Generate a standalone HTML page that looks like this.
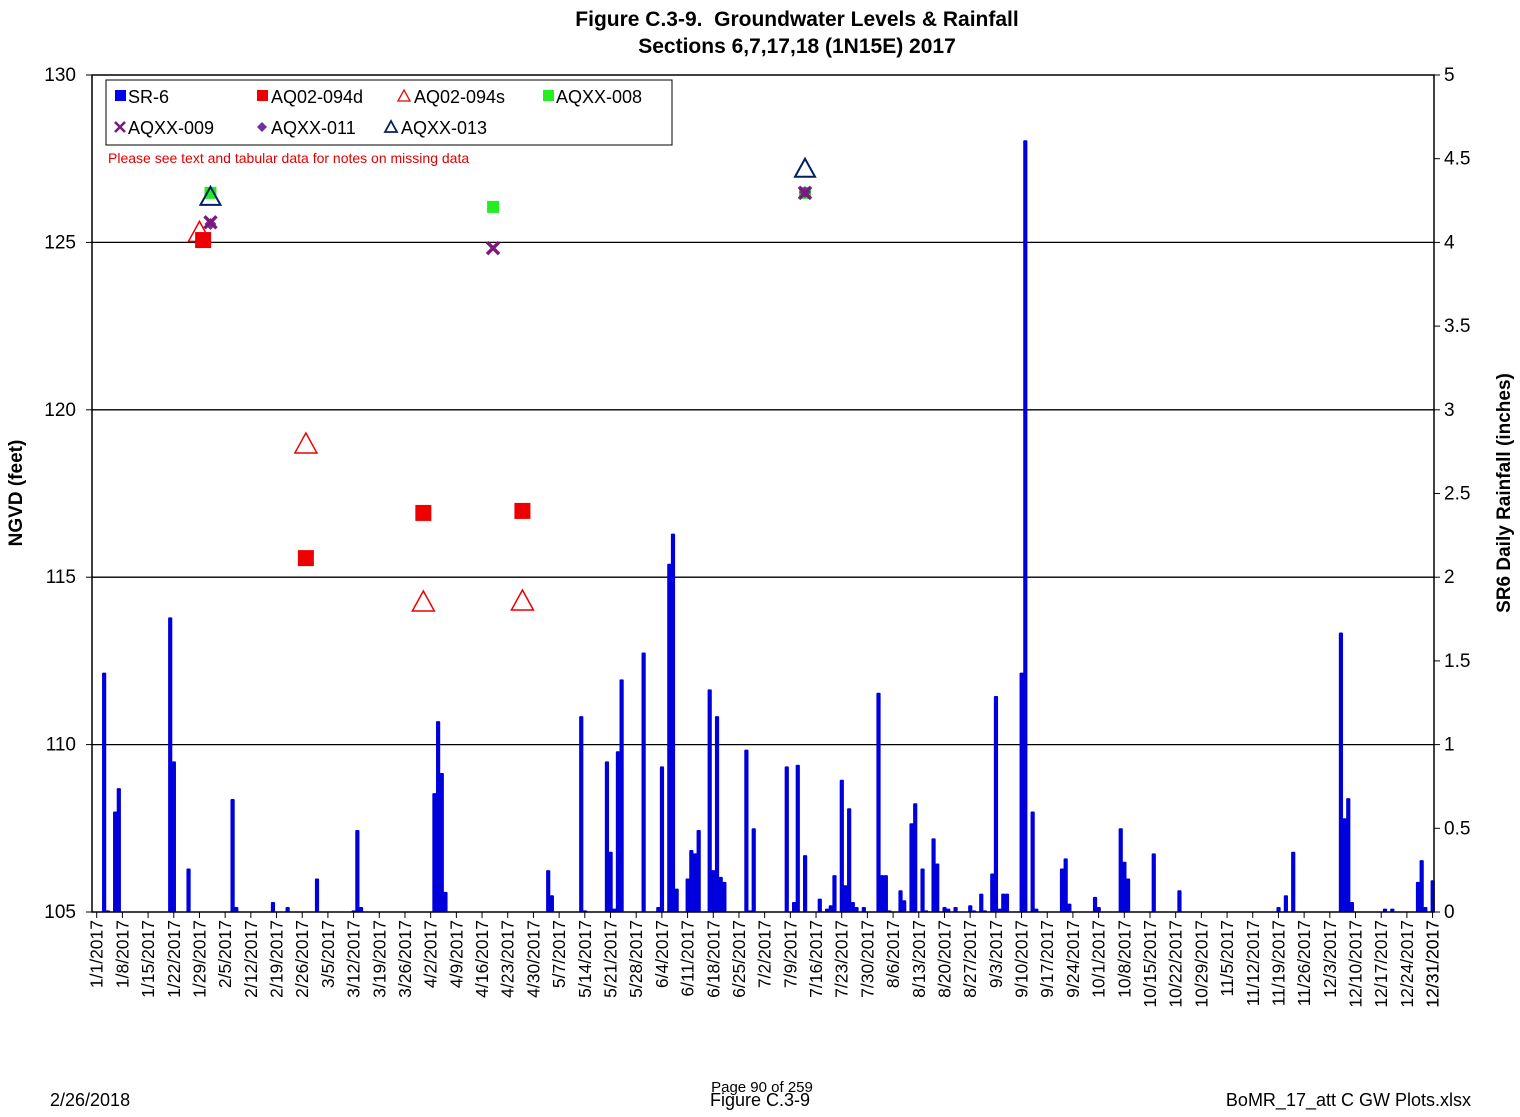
<!DOCTYPE html>
<html><head><meta charset="utf-8"><style>
body{margin:0;background:#fff;font-family:"Liberation Sans",sans-serif}
svg text{font-family:"Liberation Sans",sans-serif}
</style></head><body>
<svg id="c" width="1520" height="1112" viewBox="0 0 1520 1112">
<text x="797" y="26" text-anchor="middle" font-size="21" font-weight="bold" style="white-space:pre">Figure C.3-9.  Groundwater Levels &amp; Rainfall</text>
<text x="797" y="53" text-anchor="middle" font-size="21" font-weight="bold">Sections 6,7,17,18 (1N15E) 2017</text>
<g id="grid"></g><g id="bars"></g><g id="pts"></g><g id="axes"></g>
<g>
<rect x="106" y="80" width="566" height="65" fill="#fff" stroke="#000" stroke-width="1"/>
<g><rect x="115" y="90" width="11" height="11" fill="#0000ee"/><text x="128" y="103" font-size="18">SR-6</text></g>
<g><rect x="257" y="90" width="11" height="11" fill="#ee0000"/><text x="271" y="103" font-size="18">AQ02-094d</text></g>
<g><polygon points="404,90 398,101 410,101" fill="none" stroke="#e00" stroke-width="1.3"/><text x="414" y="103" font-size="18">AQ02-094s</text></g>
<g><rect x="543" y="90" width="11" height="11" fill="#22ee22"/><text x="556" y="103" font-size="18">AQXX-008</text></g>
<g><path d="M115,122 L125,132 M125,122 L115,132" stroke="#7a1a7a" stroke-width="2.5"/><text x="128" y="134" font-size="18">AQXX-009</text></g>
<g><polygon points="262,122 267,127 262,132 257,127" fill="#7030a0"/><text x="271" y="134" font-size="18">AQXX-011</text></g>
<g><polygon points="391,121 385,132 397,132" fill="none" stroke="#002060" stroke-width="1.8"/><text x="401" y="134" font-size="18">AQXX-013</text></g>
<text x="108" y="163" font-size="14" fill="#e00000">Please see text and tabular data for notes on missing data</text>
</g>
<text transform="translate(22,493) rotate(-90)" text-anchor="middle" font-size="19" font-weight="bold">NGVD (feet)</text>
<text transform="translate(1510,493) rotate(-90)" text-anchor="middle" font-size="19" font-weight="bold">SR6 Daily Rainfall (inches)</text>
<text x="50" y="1106" font-size="18">2/26/2018</text>
<text x="762" y="1092" text-anchor="middle" font-size="15">Page 90 of 259</text>
<text x="760" y="1106" text-anchor="middle" font-size="18">Figure C.3-9</text>
<text x="1471" y="1106" text-anchor="end" font-size="18">BoMR_17_att C GW Plots.xlsx</text>
</svg>
<script>
const rainDays=[2,3,5,6,20,21,25,37,38,48,52,60,70,71,72,92,93,94,95,123,124,132,133,139,140,141,142,143,149,153,154,156,157,158,161,162,163,164,167,168,169,170,171,177,178,179,188,190,191,193,197,199,200,201,203,204,205,206,207,209,213,214,215,216,219,220,222,223,225,226,228,229,231,232,234,238,239,241,242,244,245,246,247,248,252,253,255,256,263,264,265,272,273,279,280,281,288,295,322,324,326,339,340,341,342,351,353,360,361,362,364];
const rainVals=[1.43,0.01,0.60,0.74,1.76,0.90,0.26,0.675,0.03,0.06,0.03,0.2,0.01,0.49,0.03,0.71,1.14,0.83,0.12,0.25,0.10,1.17,0.01,0.90,0.36,0.02,0.96,1.39,1.55,0.03,0.87,2.08,2.26,0.14,0.20,0.37,0.35,0.49,1.33,0.25,1.17,0.21,0.18,0.97,0.01,0.50,0.87,0.06,0.88,0.34,0.08,0.02,0.04,0.22,0.79,0.16,0.62,0.06,0.03,0.03,1.31,0.22,0.22,0.01,0.13,0.07,0.53,0.65,0.26,0.01,0.44,0.29,0.03,0.02,0.03,0.04,0.01,0.11,0.01,0.23,1.29,0.02,0.11,0.11,1.43,4.61,0.60,0.02,0.26,0.32,0.05,0.09,0.03,0.50,0.30,0.20,0.35,0.13,0.03,0.10,0.36,1.67,0.56,0.68,0.06,0.02,0.02,0.18,0.31,0.03,0.19];
const d094Days=[29,57,89,116], d094Vals=[125.07,115.57,116.92,116.98];
const s094Days=[28,57,89,116], s094Vals=[125.3,118.98,114.26,114.29];
const x008Days=[31,108,193], x008Vals=[126.48,126.06,126.48];
const x009Days=[31,108,193], x009Vals=[125.6,124.83,126.48];
const x011Days=[31,193], x011Vals=[125.55,126.5];
const x013Days=[31,193], x013Vals=[126.36,127.2];
const leftTicks=[105,110,115,120,125,130];
const rightTicks=[0,0.5,1,1.5,2,2.5,3,3.5,4,4.5,5];

const NS="http://www.w3.org/2000/svg";
const L=92,R=1434,T=75,B=912;
const xS=d=>96.7+3.67*d;
const yL=v=>B-(v-105)/25*(B-T);
const yR=v=>B-v/5*(B-T);
function mk(tag,attrs,parent){const e=document.createElementNS(NS,tag);for(const k in attrs)e.setAttribute(k,attrs[k]);parent.appendChild(e);return e;}
const grid=document.getElementById('grid'),bars=document.getElementById('bars'),pts=document.getElementById('pts'),axes=document.getElementById('axes');
leftTicks.forEach(v=>{
  if(v>105&&v<130){const g=mk('line',{x1:L,x2:R,y1:yL(v),y2:yL(v),stroke:'#000','stroke-width':1.3},grid);
  
  }
  mk('line',{x1:L-6,x2:L,y1:yL(v),y2:yL(v),stroke:'#000'},axes);
  const t=mk('text',{x:L-16,y:yL(v)+6,'text-anchor':'end','font-size':19},axes);t.textContent=v;
  
  
});
rightTicks.forEach(v=>{
  mk('line',{x1:R,x2:R+6,y1:yR(v),y2:yR(v),stroke:'#000'},axes);
  const t=mk('text',{x:R+10,y:yR(v)+6,'font-size':19},axes);t.textContent=v;
  
  
});
mk('rect',{x:L,y:T,width:R-L,height:B-T,fill:'none',stroke:'#000','stroke-width':1.5},axes);
for(let d=0;d<=364;d+=7){
  const dt=new Date(2017,0,1+d);
  const lab=(dt.getMonth()+1)+'/'+dt.getDate()+'/2017';
  const x=xS(d);
  mk('line',{x1:x,x2:x,y1:B,y2:B+6,stroke:'#000'},axes);
  const t=mk('text',{transform:`translate(${x+6},${B+8}) rotate(-90)`,'text-anchor':'end','font-size':17.5},axes);
  t.textContent=lab;
  
  
}
{const x=xS(364);const t=mk('text',{transform:`translate(${x+6},${B+8}) rotate(-90)`,'text-anchor':'end','font-size':17.5},axes);t.textContent='12/31/2017';

}
rainDays.forEach((d,i)=>{
  const y=yR(rainVals[i]);
  const b=mk('rect',{x:xS(d)-2,y:y,width:4.2,height:Math.max(B-y,1.5),fill:'#0000dd',rx:1},bars);
  
  
});
function series(days,vals,fn,name){days.forEach((d,i)=>{const g=fn(xS(d),yL(vals[i]));
  
  });}
series(x008Days,x008Vals,(x,y)=>mk('rect',{x:x-6,y:y-6,width:12,height:12,fill:'#22ee22'},pts),'aqxx-008-point');
series(d094Days,d094Vals,(x,y)=>mk('rect',{x:x-8,y:y-8,width:16,height:16,fill:'#ee0000'},pts),'aq02-094d-point');
series(s094Days,s094Vals,(x,y)=>mk('polygon',{points:`${x},${y-11} ${x-11},${y+9} ${x+11},${y+9}`,fill:'none',stroke:'#e00','stroke-width':1.5},pts),'aq02-094s-point');
series(x011Days,x011Vals,(x,y)=>mk('polygon',{points:`${x},${y-6} ${x+6},${y} ${x},${y+6} ${x-6},${y}`,fill:'#7030a0'},pts),'aqxx-011-point');
series(x009Days,x009Vals,(x,y)=>mk('path',{d:`M${x-6},${y-6}L${x+6},${y+6}M${x+6},${y-6}L${x-6},${y+6}`,stroke:'#7a1a7a','stroke-width':3.5},pts),'aqxx-009-point');
series(x013Days,x013Vals,(x,y)=>mk('polygon',{points:`${x},${y-10} ${x-10},${y+8} ${x+10},${y+8}`,fill:'none',stroke:'#002060','stroke-width':2},pts),'aqxx-013-point');
</script>
</body></html>
